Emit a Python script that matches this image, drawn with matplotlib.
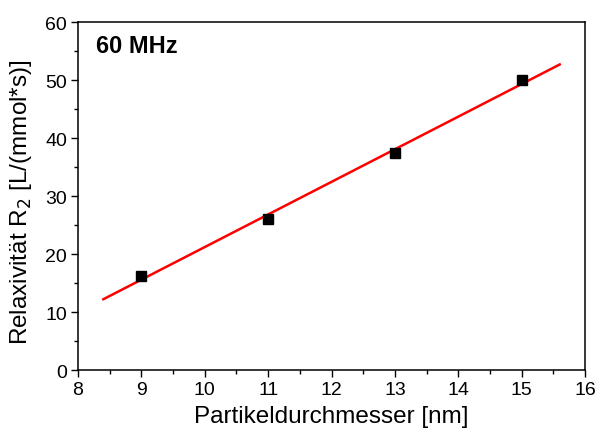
import numpy as np
import matplotlib
matplotlib.use("Agg")
import matplotlib.pyplot as plt
from matplotlib.ticker import MultipleLocator

plt.rcParams['font.family'] = ['Liberation Sans', 'DejaVu Sans']

diameter = [9, 11, 13, 15]
r2 = [16.3, 26.1, 37.4, 50.0]
fit_range = [8.4, 15.6]

fig = plt.figure(figsize=(5.97, 4.31), dpi=100)
ax = fig.add_axes([0.1307, 0.139, 0.8493, 0.8076])

coef = np.polyfit(diameter, r2, 1)
fx = np.array(fit_range)
ax.plot(fx, np.polyval(coef, fx), color='red', lw=1.8, zorder=2)
ax.plot(diameter, r2, 's', color='black', ms=7, zorder=3)

ax.set_xlim(8, 16)
ax.set_ylim(0, 60)
ax.xaxis.set_major_locator(MultipleLocator(1))
ax.xaxis.set_minor_locator(MultipleLocator(0.5))
ax.yaxis.set_major_locator(MultipleLocator(10))
ax.yaxis.set_minor_locator(MultipleLocator(5))
ax.tick_params(which='major', direction='out', length=5, width=1, labelsize=14, pad=3, top=False, right=False)
ax.tick_params(which='minor', direction='out', length=3, width=1, top=False, right=False)
for s in ax.spines.values():
    s.set_linewidth(1.1)

ax.set_xlabel('Partikeldurchmesser [nm]', fontsize=17.5, labelpad=5)
ax.set_ylabel('Relaxivität R$_2$ [L/(mmol*s)]', fontsize=17.5)
ax.yaxis.set_label_coords(-0.087, 0.485)
ax.text(0.035, 0.932, '60 MHz', transform=ax.transAxes, fontsize=17, fontweight='bold', va='center', ha='left')

fig.savefig('out.png', dpi=100)
